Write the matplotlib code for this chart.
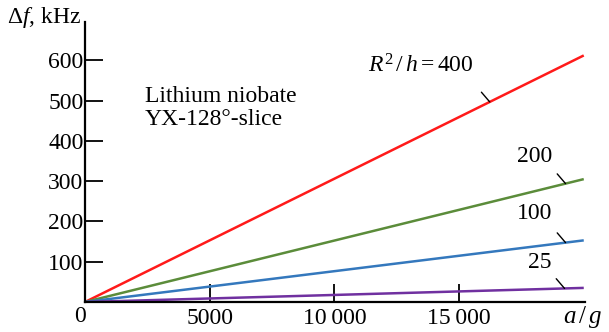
# lithium niobate frequency shift vs acceleration
import matplotlib
matplotlib.use('Agg')
import matplotlib.pyplot as plt

plt.rcParams['font.family'] = ['Liberation Serif', 'DejaVu Serif']
plt.rcParams['mathtext.fontset'] = 'custom'
plt.rcParams['mathtext.rm'] = 'Liberation Serif'
plt.rcParams['mathtext.it'] = 'Liberation Serif:italic'

# data
accel = [0, 20000]                      # a/g
ratios = ['400', '200', '100', '25']    # R^2/h
shift_400 = [0, 612]
shift_200 = [0, 305]
shift_100 = [0, 153]
shift_25 = [0, 35]
series = [shift_400, shift_200, shift_100, shift_25]
colors = ['#ff1a1a', '#5b8c3a', '#3478bd', '#7030a0']

y_ticks = [100, 200, 300, 400, 500, 600]
x_ticks = [5000, 10000, 15000]
x_tick_labels = ['5000', '10\u2009000', '15\u2009000']

FS = 17

fig = plt.figure(figsize=(6.09, 3.32), dpi=100)
ax = fig.add_axes([85 / 609, 1 - 302 / 332, 500 / 609, 280 / 332])

for vals, c in zip(series, colors):
    ax.plot(accel, vals, color=c, lw=1.8, solid_capstyle='butt')

ax.set_xlim(0, 20050)
ax.set_ylim(0, 695)

for s in ['top', 'right']:
    ax.spines[s].set_visible(False)
for s in ['left', 'bottom']:
    ax.spines[s].set_linewidth(1.6)

ax.set_yticks(y_ticks)
ax.set_xticks(x_ticks)
ax.set_xticklabels(x_tick_labels)
ax.tick_params(axis='both', direction='in', length=13, width=1.3, labelsize=FS)
ax.tick_params(axis='y', pad=1)
ax.tick_params(axis='x', pad=4)

# labels and annotations
fig.text(80 / 609, 1 - 317 / 332, '0', ha='center', va='center', fontsize=FS)
fig.text(81 / 609, 1 - 18 / 332, r'$\Delta f$, kHz', ha='right', va='center', fontsize=FS)
fig.text(583 / 609, 1 - 317 / 332, r'$a\,/\,g$', ha='center', va='center', fontsize=FS + 1)
ax.text(2400, 535, 'Lithium niobate\nYX-128\u00b0-slice', ha='left', va='top',
        fontsize=FS, linespacing=1.1)

label_pos = [(13450, 585), (18030, 360), (18030, 220), (18230, 98)]
leader_x = [16230, 19270, 19270, 19230]
label_text = [r'$R^2\,/\,h = 400$', ratios[1], ratios[2], ratios[3]]
for vals, (tx, ty), lx, txt in zip(series, label_pos, leader_x, label_text):
    ly = vals[1] * lx / accel[1]
    ax.text(tx, ty, txt, ha='center', va='center', fontsize=FS)
    ax.annotate('', xy=(lx, ly), xytext=(-6, 7), textcoords='offset points',
                arrowprops=dict(arrowstyle='-', color='black', lw=1.0,
                                shrinkA=0, shrinkB=0))

plt.savefig('out.png', dpi=100)
